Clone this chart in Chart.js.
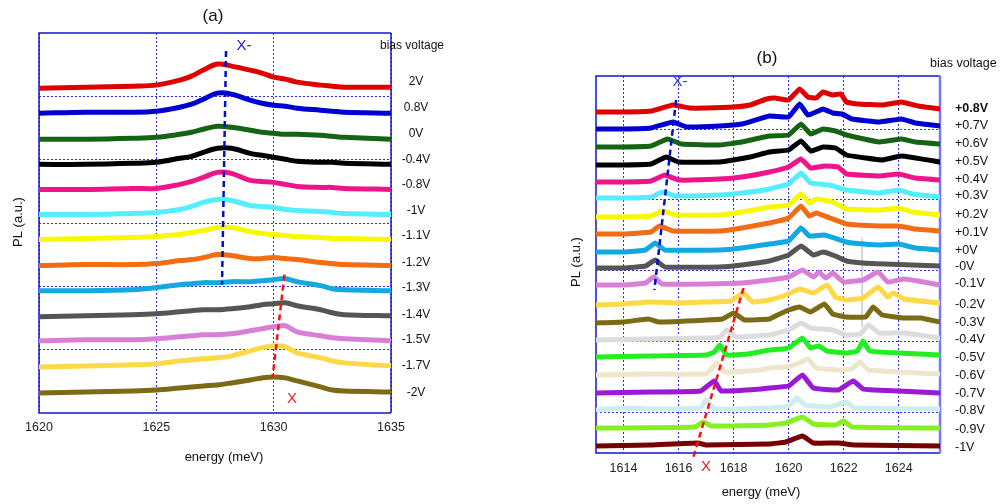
<!DOCTYPE html>
<html>
<head>
<meta charset="utf-8">
<script src="https://cdn.jsdelivr.net/npm/chart.js@4.4.0/dist/chart.umd.min.js"></script>
<style>
  html, body { margin: 0; padding: 0; background: #fff; }
  #wrap { position: relative; width: 1005px; height: 504px; }
  #chartA { position: absolute; left: 0; top: 0; }
  #chartB { position: absolute; left: 500px; top: 0; }
</style>
</head>
<body>
<div id="wrap">
  <canvas id="chartA" width="500" height="504"></canvas>
  <canvas id="chartB" width="505" height="504"></canvas>
</div>
<script>
const FONT = 'Arial, "Liberation Sans", sans-serif';

// ---------- panel (a) data ----------
const energiesA = [1620, 1622, 1624, 1625, 1626, 1626.5, 1627, 1627.6, 1628.2, 1629, 1629.5, 1630, 1630.5, 1631, 1632, 1632.5, 1633, 1635];
const ticksA = [1620, 1625, 1630, 1635];
const biasA = ["2V", "0.8V", "0V", "-0.4V", "-0.8V", "-1V", "-1.1V", "-1.2V", "-1.3V", "-1.4V", "-1.5V", "-1.7V", "-2V"];
const offsetsA = [324, 299, 273, 248, 223, 198, 173, 147, 122, 96, 72, 46, 20];

const a2V   = [0, 1, 2, 3, 8, 12, 18, 24, 22, 18, 15, 11, 9, 6, 3, 2, 1, 1];
const a08V  = [0, 1, 1, 2, 6, 9, 14, 20, 19, 13, 10, 8, 7, 5, 3, 2, 1, 0];
const a0V   = [0, 0, 1, 2, 5, 7, 10, 13, 12, 9, 7, 6, 5, 5, 4, 3, 2, 0];
const am04V = [0, 0, 1, 2, 6, 8, 12, 16, 16, 11, 9, 7, 5, 3, 2, 2, 1, 0];
const am08V = [0, 0, 1, 1, 5, 8, 12, 17, 16, 9, 8, 7, 5, 3, 2, 2, 1, 0];
const am1V  = [0, 0, 1, 2, 5, 8, 12, 15, 14, 9, 8, 7, 5, 4, 3, 2, 1, 0];
const am11V = [0, 1, 2, 3, 5, 7, 9, 12, 12, 8, 6, 5, 4, 3, 2, 1, 1, 0];
const am12V = [0, 1, 1, 2, 5, 6, 8, 11, 10, 7, 7, 8, 7, 6, 3, 2, 1, 0];
const am13V = [0, 0, 1, 3, 6, 7, 8, 8, 9, 9, 10, 11, 12, 9, 5, 2, 1, 0];
const am14V = [0, 1, 2, 3, 5, 6, 7, 7, 8, 10, 12, 13, 14, 11, 7, 4, 2, 1];
const am15V = [0, 1, 1, 2, 4, 5, 6, 6, 7, 10, 12, 14, 15, 9, 5, 3, 2, 0];
const am17V = [0, 1, 2, 3, 6, 7, 8, 9, 11, 16, 19, 21, 20, 14, 9, 6, 4, 1];
const am2V  = [0, 1, 2, 3, 5, 6, 7, 8, 10, 13, 15, 16, 15, 12, 6, 3, 2, 1];
const spectraA = [a2V, a08V, a0V, am04V, am08V, am1V, am11V, am12V, am13V, am14V, am15V, am17V, am2V];

const xMinusLineA = [[1627.97, 361], [1627.8, 128]];
const xLineA = [[1630.46, 138], [1629.95, 35]];

const colorsA = ["#e00000", "#0000d0", "#146414", "#000000", "#f0148a", "#55eeff", "#f8f800",
                 "#f26c14", "#12a8e0", "#555555", "#d880d8", "#fdd848", "#7c6a14"];

// ---------- panel (b) data ----------
const ticksB = [1614, 1616, 1618, 1620, 1622, 1624];
const biasB = ["+0.8V", "+0.7V", "+0.6V", "+0.5V", "+0.4V", "+0.3V", "+0.2V", "+0.1V", "+0V", "-0V",
               "-0.1V", "-0.2V", "-0.3V", "-0.4V", "-0.5V", "-0.6V", "-0.7V", "-0.8V", "-0.9V", "-1V"];
const offsetsB = [341, 324, 306, 288, 271, 255, 236, 219, 201, 185, 168, 148, 130, 113, 96, 78, 60, 43, 25, 7];

const bp08 = [[1613,0],[1614,0],[1615,1],[1615.8,7],[1616.4,4],[1617,4],[1618,5],[1618.6,7],[1619.2,13],[1619.5,14],[1620,12],[1620.4,23],[1620.7,15],[1621,14],[1621.25,20],[1621.6,17],[1621.9,18],[1622.1,10],[1622.5,8],[1623.4,7],[1624.1,10],[1624.7,6],[1625.5,3]];
const bp07 = [[1613,0],[1614,0],[1615,1],[1615.8,7],[1616.3,2],[1617.5,3],[1618.3,5],[1619.3,13],[1620,12],[1620.4,25],[1620.7,14],[1621.25,20],[1621.6,16],[1621.95,15],[1622.3,10],[1623.3,7],[1624.1,10],[1624.6,6],[1625.5,3]];
const bp06 = [[1613,0],[1614,0],[1615,1],[1615.6,8],[1616.1,3],[1617.5,2],[1618.3,5],[1619.3,11],[1620,12],[1620.45,23],[1620.8,13],[1621.25,18],[1621.7,16],[1622.1,12],[1623.3,5],[1624.1,8],[1624.6,5],[1625.5,3]];
const bp05 = [[1613,0],[1614,0],[1615,1],[1615.55,8],[1616,3],[1617.5,3],[1618,5],[1618.6,8],[1619.3,13],[1620,15],[1620.45,24],[1620.8,14],[1621.25,18],[1621.7,17],[1622.1,10],[1622.8,7],[1623.4,5],[1624.1,9],[1625.5,3]];
const bp04 = [[1613,0],[1614,0],[1615,1],[1615.5,7],[1616,2],[1617.5,3],[1618.3,5],[1619.3,10],[1620,15],[1620.45,23],[1620.8,14],[1621.3,16],[1621.8,15],[1622.1,8],[1623.3,6],[1624,8],[1624.6,4],[1625.5,2]];
const bp03 = [[1613,0],[1614,0],[1615,1],[1615.4,6],[1615.9,2],[1617.5,3],[1618.3,5],[1619.3,9],[1620,14],[1620.45,25],[1620.8,15],[1621.5,13],[1622.1,8],[1623.3,5],[1624,8],[1624.5,4],[1625.5,1]];
const bp02 = [[1613,0],[1614,0],[1615,1],[1615.4,6],[1615.9,2],[1617.5,2],[1618.3,5],[1619.3,10],[1620,12],[1620.45,23],[1620.75,14],[1621,18],[1621.6,15],[1622.1,8],[1623.3,7],[1624,9],[1624.5,5],[1625.5,2]];
const bp01 = [[1613,0],[1614,0],[1615,2],[1615.3,8],[1615.8,3],[1617.5,3],[1618.3,6],[1619.3,11],[1620,16],[1620.45,28],[1620.75,18],[1621,21],[1621.5,16],[1622.1,10],[1623.3,8],[1624,8],[1624.6,5],[1625.5,3]];
const bp00 = [[1613,0],[1614,0],[1614.8,2],[1615.15,9],[1615.5,2],[1617.5,2],[1618.3,4],[1619.3,8],[1620,11],[1620.45,24],[1620.75,16],[1621.3,17],[1622.1,10],[1622.3,9],[1623.3,7],[1624,8],[1624.6,4],[1625.5,2]];
const bm00 = [[1613,0],[1614,0],[1614.8,2],[1615.15,8],[1615.5,1],[1617.5,1],[1618.3,3],[1619.3,7],[1620,13],[1620.45,22],[1620.9,13],[1621.25,16],[1621.7,12],[1622.1,7],[1622.7,5],[1623.5,4],[1624.5,3],[1625.5,2]];
const bm01 = [[1613,0],[1614,0],[1614.8,2],[1615.1,8],[1615.4,1],[1617,1],[1618.3,2],[1619.3,5],[1620,8],[1620.5,15],[1620.9,8],[1621.1,13],[1621.35,7],[1621.6,12],[1622,3],[1622.7,5],[1623.25,13],[1623.6,3],[1624.2,6],[1624.7,4],[1625.5,0]];
const bm02 = [[1613,0],[1614,1],[1615,3],[1616,2],[1617,3],[1617.9,4],[1618.35,12],[1618.7,3],[1619.3,5],[1619.9,10],[1620.4,16],[1620.9,12],[1621.4,20],[1621.7,8],[1622.1,5],[1622.7,7],[1623.25,18],[1623.6,8],[1623.8,12],[1624.2,6],[1625.5,2]];
const bm03 = [[1613,0],[1614,1],[1614.9,4],[1615.3,1],[1617,3],[1617.6,4],[1618,10],[1618.4,3],[1619.3,4],[1619.6,8],[1620,13],[1620.4,16],[1620.8,11],[1621.3,19],[1621.6,9],[1622.1,6],[1622.8,6],[1623.07,16],[1623.4,8],[1624.2,5],[1624.8,5],[1625.5,1]];
const bm04 = [[1613,0],[1615,1],[1617,2],[1617.5,3],[1617.75,10],[1618.1,3],[1619.3,5],[1619.6,7],[1620,10],[1620.45,17],[1620.8,12],[1621.6,10],[1622.1,5],[1622.6,6],[1622.9,15],[1623.3,7],[1624.2,7],[1625.5,2]];
const bm05 = [[1613,0],[1615,1],[1617,2],[1617.3,5],[1617.5,12],[1617.75,2],[1618.5,3],[1619.3,7],[1620,9],[1620.5,19],[1620.8,9],[1621.1,11],[1621.4,6],[1622.1,4],[1622.5,6],[1622.7,16],[1622.95,6],[1624,4],[1625.5,2]];
const bm06 = [[1613,0],[1615,1],[1617,1],[1617.4,12],[1617.7,3],[1619,5],[1619.3,7],[1619.9,8],[1620.4,12],[1620.7,16],[1621,7],[1621.8,5],[1622.3,6],[1622.6,13],[1622.9,5],[1624,3],[1625.5,1]];
const bm07 = [[1613,0],[1615,1],[1616.8,2],[1617.3,12],[1617.55,2],[1619,4],[1619.3,5],[1620,7],[1620.5,18],[1620.9,5],[1621.8,3],[1622.35,12],[1622.7,4],[1623.1,3],[1624,2],[1625.5,0]];
const bm08 = [[1613,0],[1614,2],[1615,1],[1616.8,2],[1617,10],[1617.3,1],[1619.3,2],[1620,4],[1620.3,12],[1620.6,5],[1621.5,3],[1622.1,8],[1622.4,2],[1625.5,1]];
const bm09 = [[1613,0],[1616.6,1],[1616.9,6],[1617.2,2],[1619.3,3],[1619.9,5],[1620.5,11],[1620.9,4],[1621.7,3],[1622,7],[1622.3,1],[1625.5,0]];
const bm10 = [[1613,0],[1615,1],[1616.7,3],[1617,1],[1619.3,2],[1619.9,4],[1620.5,10],[1620.9,3],[1621.8,3],[1622.4,1],[1625.5,0]];
const spectraB = [bp08, bp07, bp06, bp05, bp04, bp03, bp02, bp01, bp00, bm00,
                  bm01, bm02, bm03, bm04, bm05, bm06, bm07, bm08, bm09, bm10];

const spikeB = [[1622.67, 126], [1622.67, 215]];
const xMinusLineB = [[1615.91, 353], [1615.12, 163]];
const xLineB = [[1618.36, 165], [1616.54, -4]];

const colorsB = ["#e00000", "#0000d0", "#146414", "#000000", "#f0148a", "#55eeff", "#f8f800", "#f26c14",
                 "#12a8e0", "#555555", "#d880d8", "#fdd848", "#7c6a14", "#dcdcdc", "#22ee22", "#eee6cc",
                 "#9a18d6", "#cdeeec", "#88f022", "#760000"];

// ---------- plugins ----------
const framePlugin = {
    id: "frame",
    beforeDatasetsDraw(chart, args, opts) {
        const { left, top, right, bottom } = chart.chartArea;
        const ctx = chart.ctx;
        ctx.save();
        ctx.strokeStyle = opts.color;
        ctx.lineWidth = opts.width;
        ctx.beginPath();
        ctx.moveTo(right, top);
        ctx.lineTo(left, top);
        ctx.lineTo(left, bottom);
        ctx.lineTo(right, bottom);
        ctx.stroke();
        ctx.strokeStyle = opts.rightColor || opts.color;
        ctx.lineWidth = opts.rightWidth || opts.width;
        ctx.beginPath();
        ctx.moveTo(right, top);
        ctx.lineTo(right, bottom);
        ctx.stroke();
        ctx.restore();
    },
};

const notesPlugin = {
    id: "notes",
    afterDraw(chart, args, opts) {
        const ctx = chart.ctx;
        const yScale = chart.scales.y;
        ctx.save();
        // free texts
        opts.items.forEach((it) => {
            ctx.save();
            ctx.font = (it.bold ? "bold " : "") + it.size + "px " + FONT;
            ctx.fillStyle = it.color || "#111";
            ctx.textAlign = it.align || "center";
            ctx.textBaseline = "middle";
            ctx.translate(it.x, it.y);
            if (it.rotate) ctx.rotate(it.rotate);
            ctx.fillText(it.text, 0, 0);
            ctx.restore();
        });
        // bias labels next to each trace
        const n = opts.bias.length;
        opts.bias.forEach((label, i) => {
            const fromBottom = n - 1 - i;
            const y = yScale.getPixelForValue(opts.offsets[i]) - (opts.shift0 + fromBottom * opts.shiftStep);
            ctx.font = (i === 0 && opts.firstBold ? "bold " : "") + opts.size + "px " + FONT;
            ctx.fillStyle = "#111";
            ctx.textAlign = opts.align;
            ctx.textBaseline = "middle";
            ctx.fillText(label, opts.labelX, y);
        });
        ctx.restore();
    },
};

function gridScale(extra) {
    return Object.assign({
        type: "linear",
        grid: { color: "#2a2af0", lineWidth: 1, drawTicks: false, borderDash: [2, 2] },
        border: { display: false, dash: [2, 2] },
    }, extra);
}

function markerSet(points, color) {
    return {
        data: points.map((p) => ({ x: p[0], y: p[1] })),
        borderColor: color,
        borderWidth: 2.5,
        borderDash: [6, 4],
        pointRadius: 0,
        order: -1,
        clip: false,
    };
}

const plainTick = (v) => String(v);

// ---------- chart (a) ----------
const datasetsA = spectraA.map((h, i) => ({
    data: energiesA.map((e, j) => ({ x: e, y: offsetsA[i] + h[j] })),
    borderColor: colorsA[i],
    borderWidth: 5,
    pointRadius: 0,
    tension: 0.35,
    borderJoinStyle: "round",
    borderCapStyle: "round",
}));
datasetsA.push(markerSet(xMinusLineA, "#0010c8"));
datasetsA.push(markerSet(xLineA, "#ff1010"));

new Chart(document.getElementById("chartA"), {
    type: "line",
    data: { datasets: datasetsA },
    plugins: [framePlugin, notesPlugin],
    options: {
        responsive: false,
        animation: false,
        devicePixelRatio: 1,
        layout: { padding: { left: 0, top: 33, right: 109, bottom: 0 } },
        scales: {
            x: gridScale({
                min: 1620,
                max: 1635,
                afterBuildTicks: (s) => { s.ticks = ticksA.map((v) => ({ value: v })); },
                afterFit: (s) => { s.height = 91; },
                ticks: { padding: 7.5, color: "#222", font: { size: 12.5, family: FONT }, callback: plainTick },
            }),
            y: gridScale({
                min: 0,
                max: 379,
                afterBuildTicks: (s) => { s.ticks = [1, 2, 3, 4, 5].map((k) => ({ value: (k * 379) / 6 })); },
                afterFit: (s) => { s.width = 39; },
                ticks: { display: false },
            }),
        },
        plugins: {
            legend: { display: false },
            tooltip: { enabled: false },
            frame: { color: "#1414d2", width: 1.5 },
            notes: {
                bias: biasA,
                offsets: offsetsA,
                labelX: 416,
                align: "center",
                size: 12,
                shift0: 0.5,
                shiftStep: 0.5,
                items: [
                    { text: "(a)", x: 213, y: 16, size: 17 },
                    { text: "bias voltage", x: 380, y: 46, size: 12, align: "left" },
                    { text: "X-", x: 244, y: 46, size: 15, color: "#1a1ad0" },
                    { text: "X", x: 292, y: 399, size: 15, color: "#ee2020" },
                    { text: "energy (meV)", x: 224, y: 457, size: 13 },
                    { text: "PL (a.u.)", x: 18, y: 222, size: 13, rotate: -Math.PI / 2 },
                ],
            },
        },
    },
});

// ---------- chart (b) ----------
const datasetsB = spectraB.map((pts, i) => ({
    data: pts.map((p) => ({ x: p[0], y: offsetsB[i] + p[1] })),
    borderColor: colorsB[i],
    borderWidth: 5,
    pointRadius: 0,
    tension: 0.1,
    borderJoinStyle: "round",
    borderCapStyle: "round",
}));
datasetsB.push({
    data: spikeB.map((p) => ({ x: p[0], y: p[1] })),
    borderColor: "#c8c8c8",
    borderWidth: 1.5,
    pointRadius: 0,
});
datasetsB.push(markerSet(xMinusLineB, "#0010c8"));
datasetsB.push(markerSet(xLineB, "#ff1010"));

new Chart(document.getElementById("chartB"), {
    type: "line",
    data: { datasets: datasetsB },
    plugins: [framePlugin, notesPlugin],
    options: {
        responsive: false,
        animation: false,
        devicePixelRatio: 1,
        layout: { padding: { left: 0, top: 76, right: 65, bottom: 0 } },
        scales: {
            x: gridScale({
                min: 1613,
                max: 1625.5,
                afterBuildTicks: (s) => { s.ticks = ticksB.map((v) => ({ value: v })); },
                afterFit: (s) => { s.height = 51; },
                ticks: { padding: 8, color: "#222", font: { size: 12.5, family: FONT }, callback: plainTick },
            }),
            y: gridScale({
                min: 0,
                max: 377,
                afterBuildTicks: (s) => { s.ticks = [41, 112, 183, 253.5, 324].map((v) => ({ value: v })); },
                afterFit: (s) => { s.width = 96; },
                ticks: { display: false },
            }),
        },
        plugins: {
            legend: { display: false },
            tooltip: { enabled: false },
            frame: { color: "#1414d2", width: 1.5, rightColor: "#7878f2", rightWidth: 2.5 },
            notes: {
                bias: biasB,
                offsets: offsetsB,
                labelX: 455,
                align: "left",
                size: 12.5,
                firstBold: true,
                shift0: -1.5,
                shiftStep: 0.28,
                items: [
                    { text: "(b)", x: 267, y: 58, size: 17 },
                    { text: "bias voltage", x: 430, y: 64, size: 12.5, align: "left" },
                    { text: "X-", x: 180, y: 82, size: 15, color: "#3535d5" },
                    { text: "X", x: 206, y: 467, size: 15, color: "#ee2020" },
                    { text: "energy (meV)", x: 261, y: 492, size: 13 },
                    { text: "PL (a.u.)", x: 76, y: 262, size: 13, rotate: -Math.PI / 2 },
                ],
            },
        },
    },
});
</script>
</body>
</html>
